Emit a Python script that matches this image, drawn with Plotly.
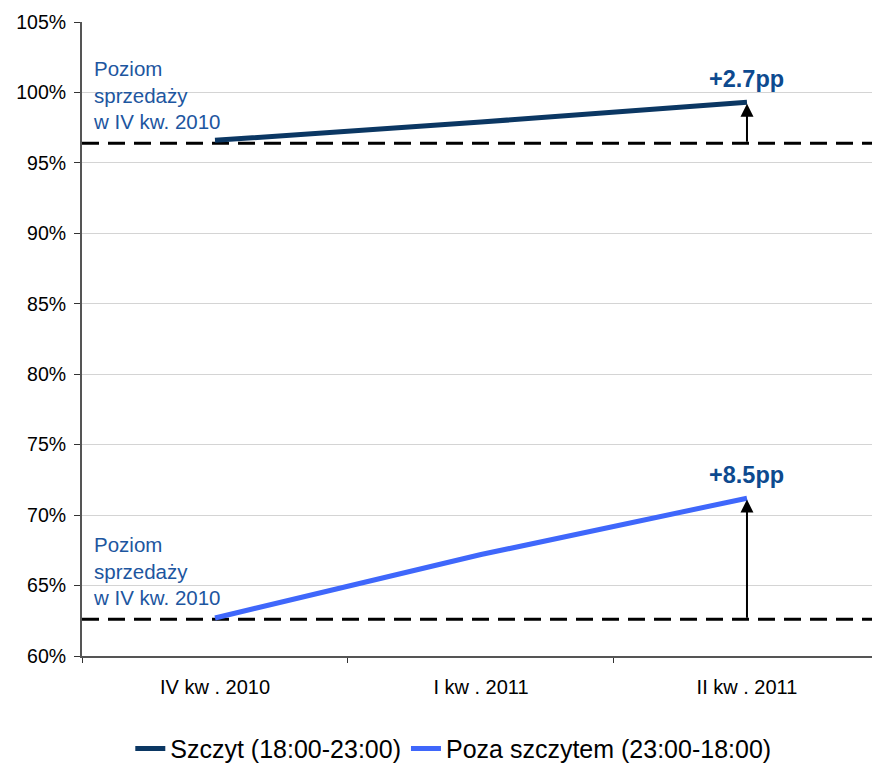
import plotly.graph_objects as go

# Quarters and sales levels (% of reference)
quarters = ["IV kw . 2010", "I kw . 2011", "II kw . 2011"]
peak = [96.6, 97.9, 99.3]          # Szczyt (18:00-23:00)
offpeak = [62.7, 67.2, 71.2]       # Poza szczytem (23:00-18:00)
peak_base = 96.4                   # level in IV kw. 2010 (dashed)
offpeak_base = 62.6
peak_gain = "+2.7pp"
offpeak_gain = "+8.5pp"
y_ticks = [60, 65, 70, 75, 80, 85, 90, 95, 100, 105]

navy = "#0b3763"
blue = "#3f67fb"
label_blue = "#1d56a0"
gain_blue = "#0d4a8f"
font_family = "Liberation Sans, Arial"

fig = go.Figure()
fig.add_trace(go.Scatter(x=quarters, y=peak, mode="lines", name="Szczyt (18:00-23:00)",
                         line=dict(color=navy, width=5)))
fig.add_trace(go.Scatter(x=quarters, y=offpeak, mode="lines", name="Poza szczytem (23:00-18:00)",
                         line=dict(color=blue, width=5)))

# dashed reference levels across the whole plot
for base in (peak_base, offpeak_base):
    fig.add_shape(type="line", xref="paper", x0=0, x1=1, yref="y", y0=base, y1=base,
                  line=dict(color="black", width=3, dash="17px,9px"), layer="below")

# arrows from base level up to the last point, with the gain above
for base, series, gain in ((peak_base, peak, peak_gain), (offpeak_base, offpeak, offpeak_gain)):
    fig.add_annotation(x=quarters[-1], y=series[-1] - 0.1, ax=quarters[-1], ay=base,
                       xref="x", yref="y", axref="x", ayref="y", text="",
                       showarrow=True, arrowhead=2, arrowsize=1.3, arrowwidth=2, arrowcolor="black")
    fig.add_annotation(x=quarters[-1], y=series[-1], xref="x", yref="y", text=f"<b>{gain}</b>",
                       showarrow=False, yanchor="bottom", yshift=8,
                       font=dict(size=23.5, color=gain_blue, family=font_family))

# "Poziom sprzedaży w IV kw. 2010" labels
for ytop in (0.948, 0.197):
    fig.add_annotation(xref="paper", yref="paper", x=0.011, y=ytop, xanchor="left", yanchor="top",
                       text="Poziom<br>sprzedaży<br>w IV kw. 2010", showarrow=False, align="left",
                       font=dict(size=20.5, color=label_blue, family=font_family))

fig.update_layout(
    width=872, height=766,
    margin=dict(l=82, r=0, t=22, b=110, autoexpand=False),
    paper_bgcolor="white", plot_bgcolor="white",
    font=dict(family=font_family, size=19, color="black"),
    showlegend=True,
    legend=dict(orientation="h", x=0.47, xanchor="center", y=-0.11, yanchor="top",
                font=dict(size=25), tracegroupgap=0),
)
fig.update_xaxes(range=[-0.5, 2.47], showgrid=False, showline=True, linecolor="#555555", linewidth=2,
                 ticks="outside", tickson="boundaries", ticklen=5, tickcolor="#333333",
                 tickfont=dict(size=20), ticklabelstandoff=12, fixedrange=True)
fig.update_yaxes(range=[60, 105], tickvals=y_ticks, ticktext=[f"{v}%" for v in y_ticks],
                 showgrid=True, gridcolor="#d4d4d4", gridwidth=1, showline=True,
                 linecolor="#555555", linewidth=2, ticks="outside", ticklen=6, tickcolor="#333333",
                 tickfont=dict(size=19.5), ticklabelstandoff=4, zeroline=False, fixedrange=True)

fig.write_html("out.html", config={"displayModeBar": False})
